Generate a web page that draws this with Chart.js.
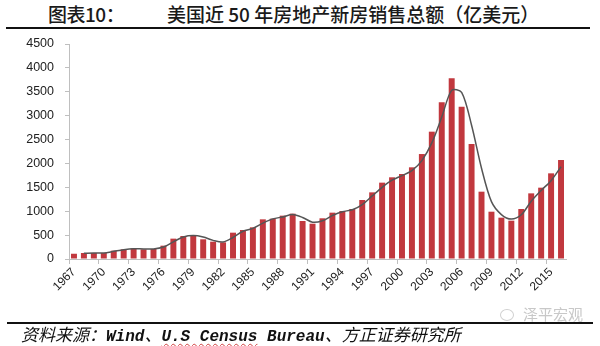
<!DOCTYPE html>
<html>
<head>
<meta charset="utf-8">
<script src="https://cdn.jsdelivr.net/npm/chart.js@4.4.0/dist/chart.umd.min.js"></script>
<style>
    html, body { margin: 0; padding: 0; background: #fff; }
    body { width: 600px; height: 346px; position: relative; overflow: hidden; font-family: 'Noto Sans CJK SC', sans-serif; color: #1a1a1a; }
    #chart-box { position: absolute; left: 0; top: 0; width: 600px; height: 346px; }
    .head { position: absolute; top: 2px; font-size: 19px; font-weight: 500; line-height: 24px; white-space: nowrap; }
    #head-no { left: 48px; letter-spacing: -0.5px; }
    #head-title { left: 167px; }
    .rule { position: absolute; height: 2px; background: #111; }
    #rule-top { left: 6px; width: 584px; top: 27px; }
    #rule-bottom { left: 7px; width: 586px; top: 322px; }
    #source { position: absolute; left: 21px; top: 323px; font-size: 17px; line-height: 22px; font-style: italic; white-space: nowrap; color: #111; }
    #source .lat { font-family: 'Liberation Mono', monospace; font-weight: bold; font-size: 16px; }
    #source .sq { text-decoration: underline wavy #d04040 1px; text-underline-offset: 2px; }
    #mark { position: absolute; left: 500px; top: 303px; font-size: 15px; color: #c8c8c8; white-space: nowrap; }
    #mark i { display: inline-block; width: 12px; height: 10px; border: 1px solid #d0d0d0; border-radius: 50%; margin-right: 9px; vertical-align: -1px; }
</style>
</head>
<body>
<div class="head" id="head-no">图表10：</div>
<div class="head" id="head-title">美国近 50 年房地产新房销售总额（亿美元）</div>
<div class="rule" id="rule-top"></div>

<div id="chart-box"><canvas id="sales-chart" width="600" height="346"></canvas></div>

<div class="rule" id="rule-bottom"></div>
<div id="mark"><i></i>泽平宏观</div>
<div id="source">资料来源：<span class="lat">Wind</span>、<span class="lat sq">U.S Census</span><span class="lat"> Bureau</span>、方正证券研究所</div>

<script>
// 年份
const years = [
    '1967', '1968', '1969', '1970', '1971', '1972', '1973', '1974', '1975', '1976',
    '1977', '1978', '1979', '1980', '1981', '1982', '1983', '1984', '1985', '1986',
    '1987', '1988', '1989', '1990', '1991', '1992', '1993', '1994', '1995', '1996',
    '1997', '1998', '1999', '2000', '2001', '2002', '2003', '2004', '2005', '2006',
    '2007', '2008', '2009', '2010', '2011', '2012', '2013', '2014', '2015', '2016'
];

// 新房销售总额（亿美元）
const salesValues = [
    110, 126, 126, 126, 174, 202, 223, 202, 209, 279,
    426, 481, 495, 412, 363, 349, 551, 607, 663, 830,
    844, 907, 949, 795, 739, 852, 970, 1005, 1046, 1235,
    1395, 1598, 1710, 1779, 1919, 2197, 2665, 3280, 3781, 3188,
    2407, 1409, 990, 865, 802, 1046, 1374, 1493, 1793, 2072
];

// 趋势线（两期移动平均，从1968年开始）
const trendValues = [
    null, 120, 126, 126, 160, 195, 215, 210, 210, 250,
    360, 460, 490, 460, 390, 355, 450, 580, 640, 750,
    840, 880, 930, 870, 770, 800, 910, 990, 1030, 1140,
    1320, 1500, 1650, 1745, 1850, 2060, 2430, 2970, 3530, 3490,
    2800, 1900, 1200, 930, 835, 925, 1210, 1435, 1640, 1930
];

// 纵轴刻度
const yMax = 4500;
const yStep = 500;
// 横轴每隔几年显示一个标签
const labelEvery = 3;

const axisGray = '#bfbfbf';
const tickFamily = "'Liberation Sans', Arial, sans-serif";

const ctx = document.getElementById('sales-chart').getContext('2d');

new Chart(ctx, {
    data: {
        labels: years,
        datasets: [
            {
                type: 'line',
                label: '2 per. Mov. Avg.',
                data: trendValues,
                borderColor: '#555555',
                borderWidth: 1.5,
                pointRadius: 0,
                tension: 0.3,
                order: 0
            },
            {
                type: 'bar',
                label: '新房销售总额',
                data: salesValues,
                backgroundColor: '#C1383E',
                borderWidth: 0,
                barPercentage: 0.6,
                categoryPercentage: 1.0,
                order: 1
            }
        ]
    },
    options: {
        responsive: false,
        animation: false,
        layout: {
            padding: { top: 44, right: 34, bottom: 0, left: 0 }
        },
        plugins: {
            legend: { display: false },
            tooltip: { enabled: false }
        },
        scales: {
            x: {
                offset: true,
                border: { color: axisGray },
                grid: {
                    offset: true,
                    drawOnChartArea: false,
                    tickLength: 5,
                    color: c => (c.index % labelEvery === 0 ? axisGray : 'rgba(0,0,0,0)')
                },
                ticks: {
                    autoSkip: false,
                    minRotation: 45,
                    maxRotation: 45,
                    padding: 1,
                    color: '#222',
                    font: { family: tickFamily, size: 12 },
                    callback: function(value, index) {
                        return index % labelEvery === 0 ? years[index] : '';
                    }
                },
                afterFit: scale => { scale.height = 87; }
            },
            y: {
                min: 0,
                max: yMax,
                border: { color: axisGray },
                grid: {
                    drawOnChartArea: false,
                    tickLength: 4,
                    color: axisGray
                },
                ticks: {
                    stepSize: yStep,
                    padding: 11,
                    color: '#222',
                    font: { family: tickFamily, size: 12.5 },
                    callback: value => String(value)
                },
                afterFit: scale => { scale.width = 69; }
            }
        }
    }
});
</script>
</body>
</html>
